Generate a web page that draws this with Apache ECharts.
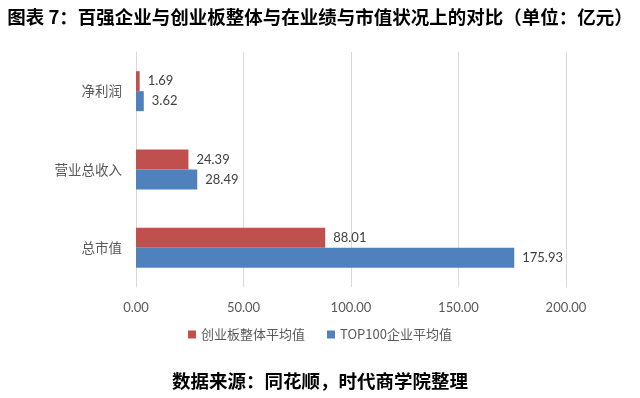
<!DOCTYPE html>
<html>
<head>
<meta charset="utf-8">
<script src="https://cdn.jsdelivr.net/npm/echarts@6/dist/echarts.min.js"></script>
<style>
  html, body { margin: 0; padding: 0; background: #fff; }
  #chart { width: 640px; height: 398px; }
</style>
</head>
<body>
<div id="chart"></div>
<script>
// bottom-to-top order, as ECharts category y axis draws it
const categories = ['总市值', '营业总收入', '净利润'];
const gemAvg = [88.01, 24.39, 1.69];     // 创业板整体平均值
const top100Avg = [175.93, 28.49, 3.62]; // TOP100企业平均值
const seriesNames = ['创业板整体平均值', 'TOP100企业平均值'];

const chart = echarts.init(document.getElementById('chart'));

const labelStyle = {
  show: true,
  position: 'right',
  distance: 8,
  color: '#404040',
  fontSize: 13,
  fontFamily: 'Lato, "Noto Sans", sans-serif',
  formatter: (p) => p.value.toFixed(2),
};

chart.setOption({
  animation: false,
  title: [{
    text: '图表 7：百强企业与创业板整体与在业绩与市值状况上的对比（单位：亿元）',
    left: 'center',
    top: 3,
    textStyle: { fontSize: 18.5, fontWeight: 'bold', color: '#000', fontFamily: '"Noto Sans CJK SC", sans-serif' },
  }, {
    text: '数据来源：同花顺，时代商学院整理',
    left: 'center',
    top: 367,
    textStyle: { fontSize: 18.5, fontWeight: 'bold', color: '#000', fontFamily: '"Noto Sans CJK SC", sans-serif' },
  }],
  legend: {
    bottom: 52,
    left: 'center',
    itemWidth: 8,
    itemHeight: 8,
    itemGap: 22,
    icon: 'rect',
    textStyle: { color: '#595959', fontSize: 13, fontFamily: '"Noto Sans CJK SC", sans-serif' },
    data: seriesNames,
  },
  grid: { left: 136, right: 74, top: 52, bottom: 111 },
  xAxis: {
    type: 'value',
    min: 0,
    max: 200,
    interval: 50,
    axisLine: { show: false },
    axisTick: { show: false },
    splitLine: { lineStyle: { color: '#d9d9d9', width: 1 } },
    axisLabel: {
      color: '#595959',
      fontSize: 13,
      margin: 14,
      fontFamily: 'Lato, "Noto Sans", sans-serif',
      formatter: (v) => v.toFixed(2),
    },
  },
  yAxis: {
    type: 'category',
    data: categories,
    axisLine: { show: true, lineStyle: { color: '#d9d9d9' } },
    axisTick: { show: false },
    axisLabel: { color: '#595959', fontSize: 13.5, margin: 14, fontFamily: '"Noto Sans CJK SC", sans-serif' },
  },
  series: [{
    name: seriesNames[0],
    type: 'bar',
    data: gemAvg,
    barWidth: 20,
    barGap: '0%',
    itemStyle: { color: '#c0504d' },
    label: labelStyle,
  }, {
    name: seriesNames[1],
    type: 'bar',
    data: top100Avg,
    barWidth: 20,
    itemStyle: { color: '#4f81bd' },
    label: labelStyle,
  }],
});
</script>
</body>
</html>
